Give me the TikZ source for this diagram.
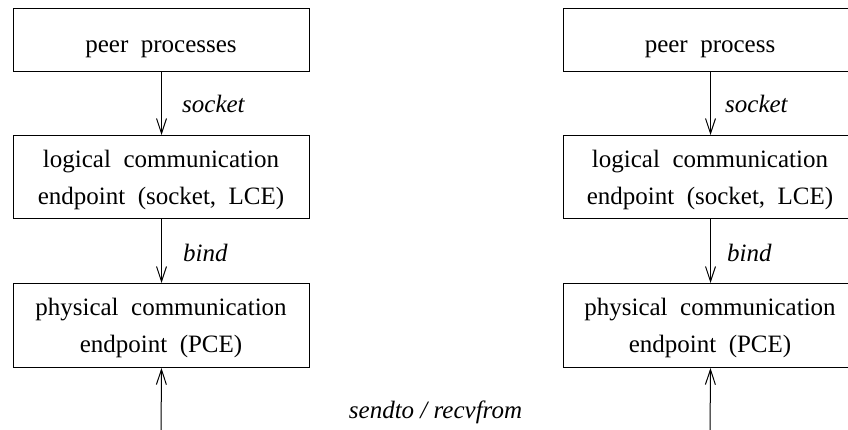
\documentclass[tikz,border=0pt]{standalone}
\usepackage{fontspec}
\setmainfont{Liberation Serif}
\usetikzlibrary{arrows.meta}
\begin{document}
\begin{tikzpicture}[x=1pt,y=-1pt,
  boxstyle/.style={draw,line width=1pt,inner sep=0pt,anchor=north west},
  txt/.style={font=\fontsize{25}{30}\selectfont,inner sep=0pt,anchor=base},
  lbl/.style={font=\fontsize{25}{30}\selectfont\itshape,inner sep=0pt,anchor=base west},
  conn/.style={line width=1pt,-{Straight Barb[length=15pt,width=10pt,line width=1pt]}}]
\useasboundingbox (0,0) rectangle (848,429);
% left column
\node[boxstyle,minimum width=296pt,minimum height=63pt] (L1) at (13,8) {};
\node[txt] (L1t) at (161,52) {peer\ \ processes};
\node[boxstyle,minimum width=296pt,minimum height=83pt] (L2) at (13,135) {};
\node[txt] (L2a) at (161,167) {logical\ \ communication};
\node[txt] (L2b) at (161,204) {endpoint\ \ (socket,\ \ LCE)};
\node[boxstyle,minimum width=296pt,minimum height=84pt] (L3) at (13,283) {};
\node[txt] (L3a) at (161,315) {physical\ \ communication};
\node[txt] (L3b) at (161,352) {endpoint\ \ (PCE)};
% right column
\node[boxstyle,minimum width=294pt,minimum height=63pt] (R1) at (563,8) {};
\node[txt] (R1t) at (710,52) {peer\ \ process};
\node[boxstyle,minimum width=294pt,minimum height=83pt] (R2) at (563,135) {};
\node[txt] (R2a) at (710,167) {logical\ \ communication};
\node[txt] (R2b) at (710,204) {endpoint\ \ (socket,\ \ LCE)};
\node[boxstyle,minimum width=294pt,minimum height=84pt] (R3) at (563,283) {};
\node[txt] (R3a) at (710,315) {physical\ \ communication};
\node[txt] (R3b) at (710,352) {endpoint\ \ (PCE)};
% free ends
\coordinate (Lb) at (161,435);
\coordinate (Rb) at (710,435);
% connectors
\draw[conn] (L1.south) -- (L2.north);
\draw[conn] (L2.south) -- (L3.north);
\draw[conn] (Lb) -- (L3.south);
\draw[conn] (R1.south) -- (R2.north);
\draw[conn] (R2.south) -- (R3.north);
\draw[conn] (Rb) -- (R3.south);
% labels
\node[lbl] (s1) at (182,112) {socket};
\node[lbl] (b1) at (183,261) {bind};
\node[lbl] (s2) at (725,112) {socket};
\node[lbl] (b2) at (727,261) {bind};
\node[txt,font=\fontsize{25}{30}\selectfont\itshape] (sr) at (435.5,418) {sendto / recvfrom};
\end{tikzpicture}
\end{document}
